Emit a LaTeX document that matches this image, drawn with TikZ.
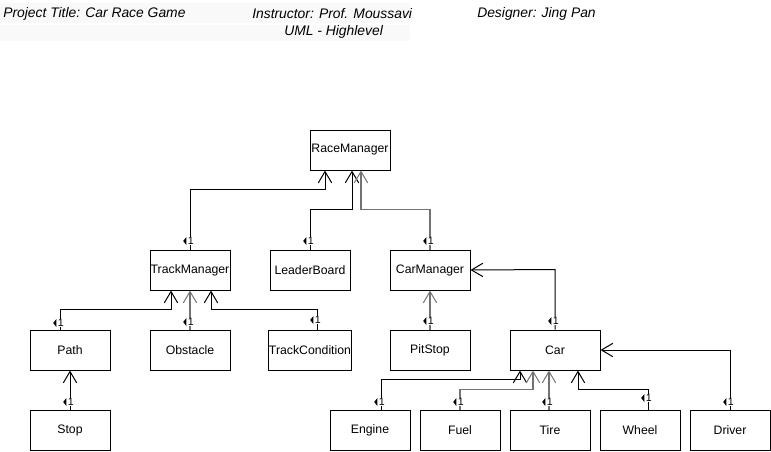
\documentclass[tikz,border=0pt]{standalone}
\usepackage{fontspec}
\setmainfont{Liberation Sans}
\usetikzlibrary{arrows.meta,calc}
\begin{document}
\begin{tikzpicture}[x=0.75pt,y=-0.75pt,
  cls/.style={draw, line width=0.75pt, minimum width=60pt, minimum height=30pt, inner sep=0pt, font=\fontsize{9.2}{11}\selectfont},
  wide/.style={minimum width=67.5pt},
  conn/.style={line width=0.75pt, -{Straight Barb[length=8.5pt,width=10pt,line width=0.75pt]}},
  grayconn/.style={conn, draw=black!55, line width=1.1pt},
  hdr/.style={font=\fontsize{10.4}{12}\selectfont\itshape, inner sep=0pt, anchor=west},
  one/.pic={\node[font=\fontsize{8}{9}\selectfont, inner sep=0.6pt, fill=white] at (1.8,0) {1};
            \fill (-2.6,-4) -- (-5.8,0) -- (-2.6,4) -- cycle;}]
\useasboundingbox (0,0) rectangle (771,451);
% header
\fill[black!2.5] (0,3) rectangle (410,23);
\fill[black!2.5] (0,25) rectangle (410,41);
\node[hdr] (h1) at (3,14) {Project Title: Car Race Game};
\node[hdr] (h2) at (252,14) {Instructor: Prof. Moussavi};
\node[hdr] (h3) at (477,14) {Designer: Jing Pan};
\node[hdr] (h4) at (284,32) {UML - Highlevel};
% classes
\node[cls] (rm) at (350,150) {RaceManager};
\node[cls] (tm) at (190,270) {TrackManager};
\node[cls] (lb) at (310,270) {LeaderBoard};
\node[cls] (cm) at (430,270) {CarManager};
\node[cls] (pa) at (70,350) {Path};
\node[cls] (ob) at (190,350) {Obstacle};
\node[cls] (tc) at (310,350) {TrackCondition};
\node[cls] (ps) at (430,350) {PitStop};
\node[cls,wide] (car) at (555,350) {Car};
\node[cls] (st) at (70,430) {Stop};
\node[cls] (en) at (370,430) {Engine};
\node[cls] (fu) at (460,430) {Fuel};
\node[cls] (ti) at (550,430) {Tire};
\node[cls] (wh) at (640,430) {Wheel};
\node[cls] (dr) at (730,430) {Driver};
% connectors
\draw[conn] (tm.north) -- ++(0,-60) -| ($(rm.south)+(-25,0)$);
\draw[conn] (lb.north) -- ++(0,-40) -| ($(rm.south)+(2,0)$);
\draw[grayconn] (cm.north) -- ++(0,-40) -| ($(rm.south)+(11,0)$);
\draw[conn] ($(pa.north)+(-10,0)$) -- ++(0,-20) -| ($(tm.south)+(-19,0)$);
\draw[grayconn] (ob.north) -- (tm.south);
\draw[conn] ($(tc.north)+(7,0)$) -- ++(0,-20) -| ($(tm.south)+(21,0)$);
\draw[grayconn] (ps.north) -- (cm.south);
\draw[conn] (car.north) -- ++(0,-60) -- (cm.east);
\draw[conn] (st.north) -- (pa.south);
\draw[conn] (dr.north) |- (car.east);
\draw[conn] ($(en.north)+(11,0)$) -- ++(0,-30) -| ($(car.south)+(-35,0)$);
\draw[grayconn] (fu.north) -- ++(0,-20) -| ($(car.south)+(-22,0)$);
\draw[grayconn] ($(ti.north)+(-1,0)$) -- ($(car.south)+(-6,0)$);
\draw[conn] ($(wh.north)+(8,0)$) -- ++(0,-20) -| ($(car.south)+(23,0)$);
% multiplicities
\pic at (189,241) {one};
\pic at (309,241) {one};
\pic at (429,241) {one};
\pic at (59,323) {one};
\pic at (189,322) {one};
\pic at (316,320) {one};
\pic at (429,321) {one};
\pic at (554,321) {one};
\pic at (69,402) {one};
\pic at (380,402) {one};
\pic at (459,402) {one};
\pic at (548,402) {one};
\pic at (647,398) {one};
\pic at (729,402) {one};
\end{tikzpicture}
\end{document}
